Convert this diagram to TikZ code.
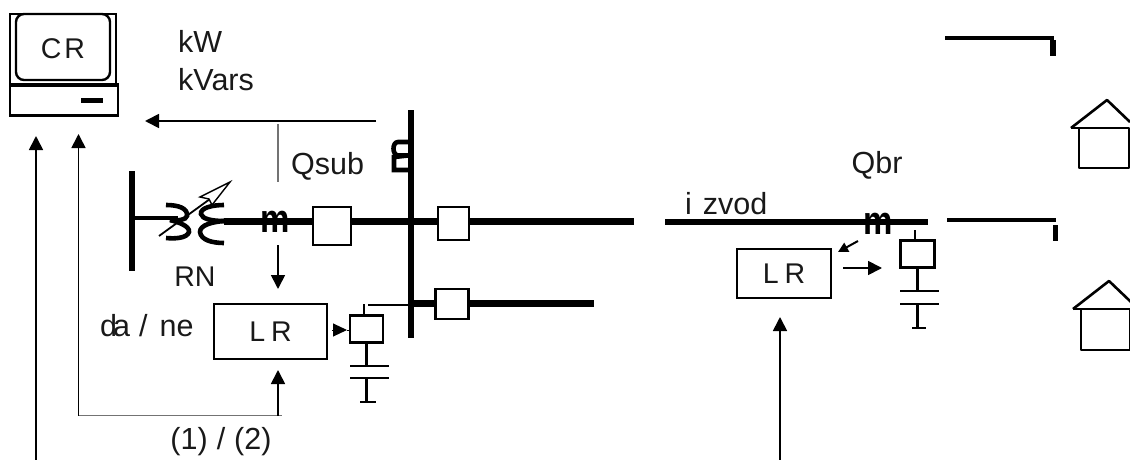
\documentclass[tikz,border=0pt]{standalone}
\usepackage{fontspec}
\setmainfont{Liberation Sans}
\usetikzlibrary{arrows.meta,calc}
\tikzset{
  x=1pt,y=-1pt,
  txt/.style={inner sep=0pt,font=\fontsize{30.5}{30.5}\selectfont,text=black!90},
  smtxt/.style={inner sep=0pt,font=\fontsize{28.5}{28.5}\selectfont,text=black!90},
  mtxt/.style={inner sep=0pt,font=\fontsize{33}{33}\selectfont\bfseries},
  busbar/.style={line width=6.5pt,black},
  wire/.style={line width=2.2pt,black},
  thinwire/.style={line width=1.2pt,black!55},
  sig/.style={line width=1.7pt,black,-{Triangle[length=14pt,width=14pt]}},
  brk/.style={draw=black,fill=white,line width=2.2pt,minimum width=#1,inner sep=0pt,outer sep=0pt},
  lrbox/.style={draw=black,fill=white,line width=2.6pt,inner sep=0pt,outer sep=0pt},
  hs/.style={line width=2.6pt,black,line join=round},
  coil/.style={line width=4.6pt,black},
}
\begin{document}
\begin{tikzpicture}
\useasboundingbox (0,0) rectangle (1130,460);
% control room terminal
\node[lrbox,minimum width=106pt,minimum height=70pt] (mon) at (63,49) {};
\node[draw=black,line width=2.4pt,rounded corners=8pt,minimum width=94pt,minimum height=66pt,inner sep=0pt] (scr) at (63,47) {};
\node[lrbox,minimum width=108pt,minimum height=31pt] (base) at (64,100) {};
\coordinate (bandL) at (10,85); \coordinate (bandR) at (117,85);
\draw[line width=4pt] (bandL) -- (bandR);
\node[smtxt] (cr) at (63,49) {C\kern3pt R};
\coordinate (btnL) at (81,100); \coordinate (btnR) at (103,100);
\draw[line width=5pt] (btnL) -- (btnR);
\node[txt,anchor=base west] (kw) at (178,53) {kW};
\node[txt,anchor=base west] (kvars) at (178,91) {kVars};
% long signal arrows
\coordinate (a1s) at (36,460); \coordinate (a1e) at (36,136);
\coordinate (a2c) at (78.5,415.5); \coordinate (a2e) at (78.5,134);
\draw[sig] (a1s) -- (a1e);
\draw[sig] (a2c) -- (a2e);
% left bus and transformer
\coordinate (lbT) at (132,171); \coordinate (lbB) at (132,271); \coordinate (lbM) at (132,218);
\draw[line width=6pt] (lbT) -- (lbB);
\coordinate (tl) at (178,218);
\draw[line width=4pt] (lbM) -- (tl);
\draw[coil] (166,205) .. controls (178,205) and (188,208) .. (187,216) .. controls (186,220) and (178,221) .. (170,220);
\draw[coil] (170,220) .. controls (178,222) and (190,226) .. (189,232) .. controls (187,238) and (176,239) .. (166,238);
\draw[coil] (224,205) .. controls (212,205) and (200,208) .. (201,214) .. controls (202,219) and (212,221) .. (224,221);
\draw[coil] (224,221) .. controls (212,222) and (200,225) .. (200,232) .. controls (201,240) and (212,243) .. (224,243);
% regulating arrow of the transformer
\coordinate (rgS) at (159,236); \coordinate (rgE) at (210,199);
\draw[line width=1.8pt] (rgS) -- (rgE);
\draw[line width=1.4pt,fill=white,line join=miter] (230,182) -- (200,197) -- (209,199) -- (212,205) -- cycle;
% main bus
\coordinate (vbT) at (411,110); \coordinate (vbB) at (411,338);
\draw[busbar] (vbT) -- (vbB);
\coordinate (mainL) at (224,221.5); \coordinate (mainR) at (634,221.5);
\draw[busbar] (mainL) -- (mainR);
\node[brk=38pt,minimum height=38pt] (b1) at (332,226) {};
\node[brk=31pt,minimum height=33pt] (b2) at (453.5,223.5) {};
\coordinate (stubR) at (594,303.5); \coordinate (stubL) at (411,303.5);
\draw[busbar] (stubL) -- (stubR);
\node[brk=33pt,minimum height=30pt] (b3) at (452,304) {};
% current transformer on the bus
\draw[line width=4.6pt,line join=round] (408,142) -- (398,142) .. controls (392,142) and (392,155) .. (398,155.5) -- (408,155.5);
\draw[line width=4.6pt,line join=miter] (408,155.5) -- (394,157) -- (394,170) -- (408,170);
% metering
\node[mtxt] (m1) at (275,222) {\scalebox{1}[1.2]{m}};
\coordinate (kvS) at (376,121); \coordinate (kvE) at (145,121);
\draw[sig] (kvS) -- (kvE);
\coordinate (gT) at (278,124); \coordinate (gB) at (278,182);
\draw[thinwire] (gT) -- (gB);
\node[txt,anchor=base west] (qsub) at (291,174) {Qsub};
\node[smtxt] (rn) at (195,277) {RN};
% local regulator at the substation
\node[lrbox,minimum width=113pt,minimum height=55pt] (lr1) at (270.5,331.5) {};
\node[smtxt] at (lr1.center) {L\kern6pt R};
\coordinate (m1d) at (278,245);
\draw[sig] (m1d) -- (m1d |- 0,289);
\node[txt,anchor=base west] (dane) at (100,336) {d\kern-4pta\kern9pt/\kern12pt ne};
\coordinate (lr1in) at (278,370);
\coordinate (a2cc) at (282,415.5);
\draw[thinwire] (a2c) -- (a2cc);
\draw[sig] (278,415.5) -- (lr1in);
\node[txt] (p12) at (221,442) {(1)\kern9pt /\kern9pt(2)};
% substation capacitor
\node[brk=33pt,minimum height=27pt] (c1) at (366.5,329) {};
\coordinate (c1top) at (364,304); \coordinate (c1f) at (368,305); \coordinate (c1b) at (411,305);
\draw[wire] (c1top) -- (c1top |- c1.north);
\draw[line width=2.4pt] (c1f) -- (c1b);
\coordinate (c1p1) at (366.5,366); \coordinate (c1p2) at (366.5,378); \coordinate (c1g) at (366.5,402);
\draw[wire] (c1.south) -- (c1p1);
\draw[wire] (c1p2) -- (c1g);
\draw[line width=2.6pt] (350,366) -- (389,366);
\draw[line width=2.6pt] (350,378) -- (389,378);
\draw[line width=2.6pt] (360,402) -- (376,402);
\coordinate (c1a) at (332,330); \coordinate (c1t) at (347,330);
\draw[line width=1pt,-{Triangle[length=14pt,width=13pt]}] (c1a) -- (c1t);
\draw[line width=1pt] (c1t) -- (c1.west |- c1t);
% feeder
\coordinate (fL) at (665,222); \coordinate (fR) at (928,222);
\draw[busbar] (fL) -- (fR);
\node[txt,anchor=base west] (izvod) at (685,214) {i\kern11pt zvod};
\node[txt] (qbr) at (877,165) {Qbr};
\node[mtxt] (m2) at (878,224) {\scalebox{1}[1.2]{m}};
\node[lrbox,minimum width=94pt,minimum height=49pt] (lr2) at (784,273.5) {};
\node[smtxt] at (lr2.center) {L\kern6pt R};
\coordinate (m2a) at (858,241); \coordinate (m2b) at (838,252);
\draw[line width=2pt,-{Triangle[length=10pt,width=10pt]}] (m2a) -- (m2b);
\coordinate (lr2o) at (843,268); \coordinate (c2in) at (882,268);
\draw[sig] (lr2o) -- (c2in);
\coordinate (a3s) at (780,460); \coordinate (a3e) at (780,317);
\draw[sig] (a3s) -- (a3e);
% feeder capacitor
\node[brk=34pt,minimum height=27pt] (c2) at (917.5,254) {};
\coordinate (c2top) at (915,230);
\draw[wire] (c2top) -- (c2top |- c2.north);
\coordinate (c2p1) at (917.5,291); \coordinate (c2p2) at (917.5,304); \coordinate (c2g) at (917.5,328);
\draw[wire] (c2.south) -- (c2p1);
\draw[wire] (c2p2) -- (c2g);
\draw[line width=2.6pt] (900,291) -- (939,291);
\draw[line width=2.6pt] (900,304) -- (939,304);
\draw[line width=2.6pt] (912,328) -- (926,328);
% service drops
\draw[line width=4.5pt] (945,38) -- (1054,38);
\draw[line width=6pt] (1053,40) -- (1053,56);
\draw[line width=4.5pt] (947,220) -- (1056,220);
\draw[line width=5pt] (1055,225) -- (1055,241);
% houses
\draw[hs] (1071,128) -- (1107,100) -- (1130,122);
\draw[hs] (1071,128) -- (1129,128) -- (1129,168) -- (1079,168) -- (1079,128);
\draw[hs] (1073,309) -- (1109,281) -- (1131,302);
\draw[hs] (1073,309) -- (1130,309) -- (1130,350) -- (1081,350) -- (1081,309);
\end{tikzpicture}
\end{document}
